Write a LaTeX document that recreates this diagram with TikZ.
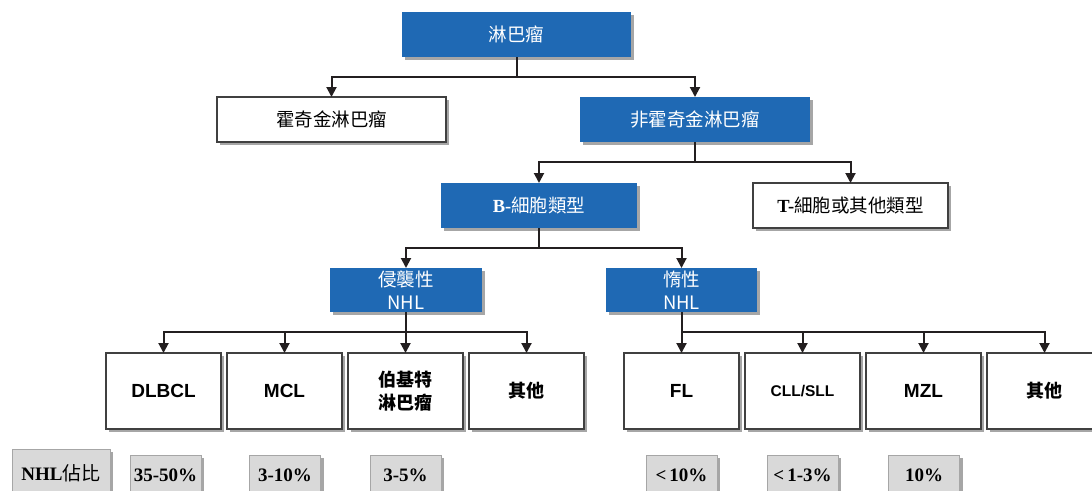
\documentclass[tikz,border=0pt]{standalone}
\usepackage{fontspec}
\setmainfont{Liberation Serif}
\newfontfamily\cjk{Noto Sans CJK TC}
\newfontfamily\arial{Liberation Sans}
\usetikzlibrary{shadows,arrows.meta}
\definecolor{nblue}{HTML}{1F69B4}
\definecolor{lineC}{HTML}{231F20}
\definecolor{pctfill}{HTML}{D9D9D9}
\begin{document}
\begin{tikzpicture}[x=1pt,y=-1pt,
  boxbase/.style={inner sep=0pt, outer sep=0pt, align=center,
    drop shadow={shadow xshift=3pt,shadow yshift=-3pt,fill=black,opacity=0.35}},
  bluebox/.style={boxbase, fill=nblue, draw=none, text=white,
    font=\cjk\fontsize{18.5}{23}\selectfont},
  whitebox/.style={boxbase, fill=white, draw=black!75, line width=1.2pt,
    font=\cjk\fontsize{18.5}{23}\selectfont},
  leafbox/.style={boxbase, fill=white, draw=black!75, line width=1.2pt,
    minimum width=115pt, minimum height=76pt,
    font=\cjk\bfseries\fontsize{18}{23}\selectfont},
  pctbox/.style={boxbase, fill=pctfill, draw=black!35, line width=0.8pt,
    minimum width=71pt, minimum height=40pt, text depth=0pt,
    font=\bfseries\fontsize{19}{20}\selectfont},
  conn/.style={draw=lineC, line width=2pt},
  arr/.style={conn, -{Triangle[length=10pt,width=10pt]}}
]
\useasboundingbox (0,0) rectangle (1092,490);
\clip (0,0) rectangle (1092,490);

% level 1
\node[bluebox, minimum width=229pt, minimum height=45pt] (lym) at (516.5,34.5) {淋巴瘤};
% level 2
\node[whitebox, minimum width=229pt, minimum height=45pt] (hod) at (331.5,119.5) {霍奇金淋巴瘤};
\node[bluebox, minimum width=230pt, minimum height=45pt] (nhod) at (695,119.5) {非霍奇金淋巴瘤};
% level 3
\node[bluebox, minimum width=196pt, minimum height=45pt] (bcell) at (539,205.5) {{\bfseries\rmfamily B-}{\cjk 細胞類型}};
\node[whitebox, minimum width=195pt, minimum height=45pt] (tcell) at (850.5,205.5) {{\bfseries\rmfamily T-}{\cjk 細胞或其他類型}};
% level 4
\node[bluebox, minimum width=152pt, minimum height=44pt] (agg) at (406,290) {侵襲性\\NHL};
\node[bluebox, minimum width=151pt, minimum height=44pt] (ind) at (681.5,290) {惰性\\NHL};
% level 5
\node[leafbox] (dlbcl) at (163.5,391) {\arial\bfseries\fontsize{19}{23}\selectfont DLBCL};
\node[leafbox] (mcl) at (284.5,391) {\arial\bfseries\fontsize{19}{23}\selectfont MCL};
\node[leafbox] (bur) at (405.5,391) {伯基特\\淋巴瘤};
\node[leafbox] (oth1) at (526.5,391) {其他};
\node[leafbox] (fl) at (681.5,391) {\arial\bfseries\fontsize{19}{23}\selectfont FL};
\node[leafbox] (cll) at (802.5,391) {\arial\bfseries\fontsize{15.5}{18}\selectfont CLL/SLL};
\node[leafbox] (mzl) at (923.5,391) {\arial\bfseries\fontsize{19}{23}\selectfont MZL};
\node[leafbox] (oth2) at (1044.5,391) {其他};

% percentages
\node[pctbox, minimum width=98pt, minimum height=48pt] (lab) at (61,473) {NHL{\cjk\mdseries 佔比}};
\node[pctbox] (p1) at (165.5,475) {35-50\%};
\node[pctbox] (p2) at (285,475) {3-10\%};
\node[pctbox] (p3) at (405.5,475) {3-5\%};
\node[pctbox] (p4) at (681.5,475) {<\,10\%};
\node[pctbox] (p5) at (802.5,475) {<\,1-3\%};
\node[pctbox] (p6) at (924,475) {10\%};

% connectors
\draw[arr] (lym.south) -- ++(0,20) -| (hod.north);
\draw[arr] (lym.south) -- ++(0,20) -| (nhod.north);
\draw[arr] (nhod.south) -- ++(0,20) -| (bcell.north);
\draw[arr] (nhod.south) -- ++(0,20) -| (tcell.north);
\draw[arr] (bcell.south) -- ++(0,20) -| (agg.north);
\draw[arr] (bcell.south) -- ++(0,20) -| (ind.north);
\foreach \c in {dlbcl,mcl,bur,oth1}
  \draw[arr] (agg.south) -- ++(0,20) -| (\c.north);
\foreach \c in {fl,cll,mzl,oth2}
  \draw[arr] (ind.south) -- ++(0,20) -| (\c.north);
\end{tikzpicture}
\end{document}
